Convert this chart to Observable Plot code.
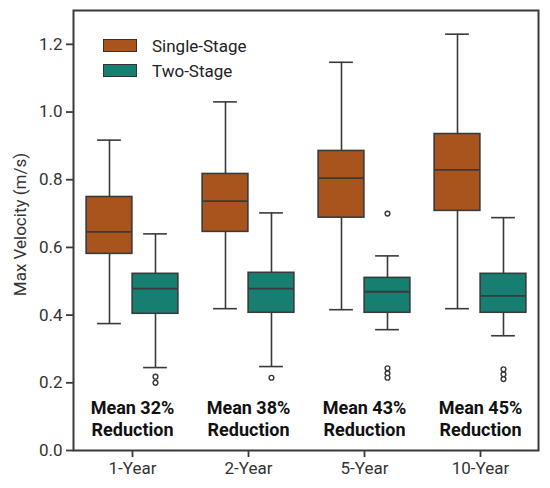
<!DOCTYPE html>
<html>
<head>
<meta charset="utf-8">
<script src="https://cdn.jsdelivr.net/npm/d3@7"></script>
<script src="https://cdn.jsdelivr.net/npm/@observablehq/plot@0.6"></script>
<style>
  html, body { margin: 0; padding: 0; background: #fff; }
  #wrap { position: relative; width: 550px; height: 488px; font-family: Roboto, "Noto Sans", sans-serif; }
  .sw { position: absolute; left: 103px; width: 32px; height: 11px; border: 1.5px solid #333; }
  .lt { position: absolute; left: 152px; font-size: 17px; color: #222; line-height: 20px; }
</style>
</head>
<body>
<div id="wrap"></div>
<script>
const categories = ["1-Year", "2-Year", "5-Year", "10-Year"];
const stages = ["Single-Stage", "Two-Stage"];
const stageColors = ["#A9541C", "#167F72"];

const singleLow    = [0.375, 0.419, 0.416, 0.419];
const singleQ1     = [0.581, 0.646, 0.688, 0.708];
const singleMedian = [0.646, 0.737, 0.805, 0.829];
const singleQ3     = [0.749, 0.817, 0.885, 0.935];
const singleHigh   = [0.917, 1.030, 1.147, 1.230];

const twoLow    = [0.245, 0.248, 0.357, 0.339];
const twoQ1     = [0.404, 0.407, 0.407, 0.407];
const twoMedian = [0.478, 0.478, 0.469, 0.457];
const twoQ3     = [0.522, 0.525, 0.510, 0.522];
const twoHigh   = [0.640, 0.702, 0.575, 0.688];

const twoOutlierCategory = ["1-Year", "1-Year", "2-Year", "5-Year", "5-Year", "5-Year", "5-Year", "10-Year", "10-Year", "10-Year"];
const twoOutlierValue    = [0.218, 0.200, 0.215, 0.700, 0.243, 0.228, 0.215, 0.240, 0.225, 0.211];

const meanReduction = [32, 38, 43, 45];
const yTicks = [0, 0.2, 0.4, 0.6, 0.8, 1.0, 1.2];
const yLabel = "Max Velocity (m/s)";

const W = 550, H = 488, mL = 73, mR = 12, mT = 10, mB = 38;
const band = (W - mL - mR) / categories.length;
const half = band / 2;
const boxW = 46, capW = 24;

const single = categories.map((c, i) => ({category: c, low: singleLow[i], q1: singleQ1[i], median: singleMedian[i], q3: singleQ3[i], high: singleHigh[i]}));
const two = categories.map((c, i) => ({category: c, low: twoLow[i], q1: twoQ1[i], median: twoMedian[i], q3: twoQ3[i], high: twoHigh[i]}));
const outliers = twoOutlierCategory.map((c, i) => ({category: c, value: twoOutlierValue[i]}));

const stroke = "#3a3a3a";

function boxMarks(rows, side, color) {
  const off = side * boxW / 2;
  const boxInL = side < 0 ? half - boxW : half;
  const boxInR = side < 0 ? half : half - boxW;
  const capC = half + off;
  const capInL = capC - capW / 2;
  const capInR = band - capC - capW / 2;
  return [
    Plot.ruleX(rows, {x: "category", y1: "low", y2: "q1", dx: off, stroke, strokeWidth: 1.6}),
    Plot.ruleX(rows, {x: "category", y1: "q3", y2: "high", dx: off, stroke, strokeWidth: 1.6}),
    Plot.barY(rows, {x: "category", y1: "q1", y2: "q3", fill: color, stroke, strokeWidth: 1.6, insetLeft: boxInL, insetRight: boxInR}),
    Plot.tickY(rows, {x: "category", y: "median", stroke, strokeWidth: 1.8, insetLeft: boxInL, insetRight: boxInR}),
    Plot.tickY(rows, {x: "category", y: "low", stroke, strokeWidth: 1.6, insetLeft: capInL, insetRight: capInR}),
    Plot.tickY(rows, {x: "category", y: "high", stroke, strokeWidth: 1.6, insetLeft: capInL, insetRight: capInR})
  ];
}

const chart = Plot.plot({
  width: W, height: H,
  marginLeft: mL, marginRight: mR, marginTop: mT, marginBottom: mB,
  style: {fontFamily: "Roboto, 'Noto Sans', sans-serif", fontSize: "17px", color: "#333", background: "#fff"},
  x: {type: "band", domain: categories, padding: 0, axis: null},
  y: {domain: [0, 1.3], axis: null},
  marks: [
    Plot.axisX({tickSize: 7, tickPadding: 4, strokeWidth: 1.8, stroke, fontSize: 17, fill: "#333", label: null}),
    Plot.axisY({ticks: yTicks, tickFormat: d3.format(".1f"), tickSize: 7, tickPadding: 4, strokeWidth: 1.8, stroke, fontSize: 17, fill: "#333", label: null}),
    ...boxMarks(single, -1, stageColors[0]),
    ...boxMarks(two, 1, stageColors[1]),
    Plot.dot(outliers, {x: "category", y: "value", dx: boxW / 2, r: 2.4, fill: "white", stroke, strokeWidth: 1.4}),
    Plot.text(categories, {x: d => d, frameAnchor: "bottom", dy: -15, text: (d, i) => `Mean ${meanReduction[i]}%\nReduction`, fontWeight: "bold", fontSize: 18, lineHeight: 1.22, fill: "#111"}),
    Plot.text([yLabel], {frameAnchor: "left", textAnchor: "middle", dx: -53, dy: -6, rotate: -90, text: d => d, fontSize: 17, fill: "#333"}),
    Plot.frame({stroke, strokeWidth: 2})
  ]
});

const wrap = document.getElementById("wrap");
wrap.appendChild(chart);

stages.forEach((s, i) => {
  const sw = document.createElement("div");
  sw.className = "sw";
  sw.style.top = (39 + i * 25) + "px";
  sw.style.background = stageColors[i];
  wrap.appendChild(sw);
  const t = document.createElement("div");
  t.className = "lt";
  t.style.top = (36 + i * 25) + "px";
  t.textContent = s;
  wrap.appendChild(t);
});
</script>
</body>
</html>
